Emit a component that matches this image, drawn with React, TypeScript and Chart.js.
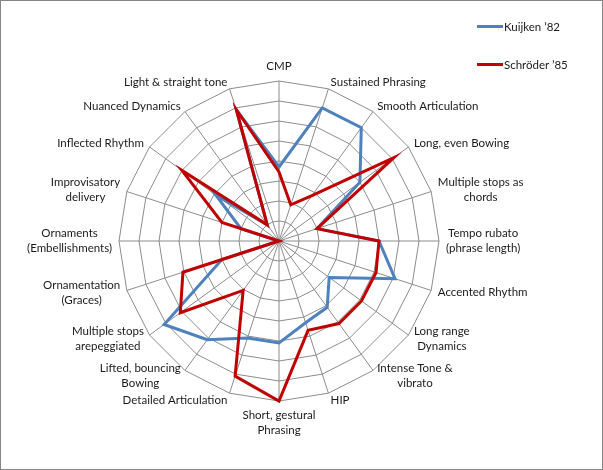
import { useEffect, useRef } from 'react';
import { Chart, registerables } from 'chart.js';

Chart.register(...registerables);

const categories = [
  ['CMP'],
  ['Sustained Phrasing'],
  ['Smooth Articulation'],
  ['Long, even Bowing'],
  ['Multiple stops as', 'chords'],
  ['Tempo rubato', '(phrase length)'],
  ['Accented Rhythm'],
  ['Long range', 'Dynamics'],
  ['Intense Tone &', 'vibrato'],
  ['HIP'],
  ['Short, gestural', 'Phrasing'],
  ['Detailed Articulation'],
  ['Lifted, bouncing', 'Bowing'],
  ['Multiple stops', 'arepeggiated'],
  ['Ornamentation', '(Graces)'],
  ['Ornaments', '(Embellishments)'],
  ['Improvisatory', 'delivery'],
  ['Inflected Rhythm'],
  ['Nuanced Dynamics'],
  ['Light & straight tone'],
];

const kuijken = [3.7, 7, 7, 5, 2, 5, 6.1, 3.1, 4.1, 4.3, 5.1, 5.1, 6.1, 7.1, 3, 0, 2, 3.9, 1, 6.9];
const schroder = [3.45, 1.9, 2.8, 7.1, 2, 5, 5.1, 5.1, 5.1, 4.7, 8, 7.1, 3.05, 6.1, 5.05, 0, 3, 6, 1, 6.9];

const seriesNames = ['Kuijken ’82', 'Schröder ’85'];
const seriesColors = ['#4F81BD', '#C00000'];

const FONT = 'Lato, "Liberation Sans", sans-serif';
const FONT_SIZE = 11.5;
const LINE_H = 15;
const LABEL_GAP = 7;
const TEXT_COLOR = '#1A1A1A';

// Excel-style category labels: vertically centred on the spoke end, side labels
// pinned to it by their near edge, and the lines of each label centred.
const excelLabels = {
  id: 'excelLabels',
  afterDraw(chart) {
    const scale: any = chart.scales.r;
    const labels: any = chart.data.labels;
    const ctx = chart.ctx;
    ctx.save();
    ctx.font = `${FONT_SIZE}px ${FONT}`;
    ctx.fillStyle = TEXT_COLOR;
    ctx.textAlign = 'center';
    ctx.textBaseline = 'middle';
    labels.forEach((lines, i) => {
      const p = scale.getPointPosition(i, scale.drawingArea + LABEL_GAP);
      const deg = Math.round((i * 360) / labels.length);
      const w = Math.max(...lines.map((l) => ctx.measureText(l).width));
      const h = lines.length * LINE_H;
      let cx = p.x;
      let top = p.y - h / 2;
      if (deg === 0) top = p.y - h;
      else if (deg === 180) top = p.y;
      else if (deg < 180) cx = p.x + w / 2;
      else cx = p.x - w / 2;
      lines.forEach((line, j) => ctx.fillText(line, cx, top + LINE_H * (j + 0.5)));
    });
    ctx.restore();
  },
};

export default function App() {
  const canvasRef = useRef(null);

  useEffect(() => {
    document.body.style.margin = '0';
    if (!canvasRef.current) return;
    const chart = new Chart(canvasRef.current, {
      type: 'radar',
      data: {
        labels: categories,
        datasets: [
          {
            label: seriesNames[0],
            data: kuijken,
            borderColor: seriesColors[0],
            backgroundColor: seriesColors[0],
            borderWidth: 3,
            pointRadius: 0,
            fill: false,
            order: 1,
          },
          {
            label: seriesNames[1],
            data: schroder,
            borderColor: seriesColors[1],
            backgroundColor: seriesColors[1],
            borderWidth: 3,
            pointRadius: 0,
            fill: false,
            order: 0,
          },
        ],
      },
      options: {
        animation: false,
        responsive: true,
        maintainAspectRatio: false,
        // square 320x320 plot area -> radius 160 around (278, 240) in canvas space
        layout: { padding: { top: 80, bottom: 68, left: 118, right: 163 } },
        plugins: { legend: { display: false }, tooltip: { enabled: false } },
        scales: {
          r: {
            min: 0,
            max: 8,
            ticks: { display: false, stepSize: 1 },
            grid: { color: '#8C8C8C', lineWidth: 1 },
            angleLines: { color: '#8C8C8C', lineWidth: 1 },
            pointLabels: { display: false },
          },
        },
      },
      plugins: [excelLabels],
    });
    return () => chart.destroy();
  }, []);

  return (
    <div
      style={{
        position: 'relative',
        width: 603,
        height: 470,
        boxSizing: 'border-box',
        border: '1px solid #868686',
        background: '#fff',
        fontFamily: FONT,
      }}
    >
      <div style={{ position: 'absolute', left: 0, top: 0, width: 601, height: 468 }}>
        <canvas ref={canvasRef} />
      </div>
      {seriesNames.map((name, i) => (
        <div
          key={name}
          style={{
            position: 'absolute',
            left: 476,
            top: 16 + i * 38,
            height: 18,
            display: 'flex',
            alignItems: 'center',
            fontSize: FONT_SIZE,
            color: TEXT_COLOR,
          }}
        >
          <span style={{ display: 'inline-block', width: 26, height: 3, background: seriesColors[i] }} />
          <span style={{ marginLeft: 1 }}>{name}</span>
        </div>
      ))}
    </div>
  );
}
